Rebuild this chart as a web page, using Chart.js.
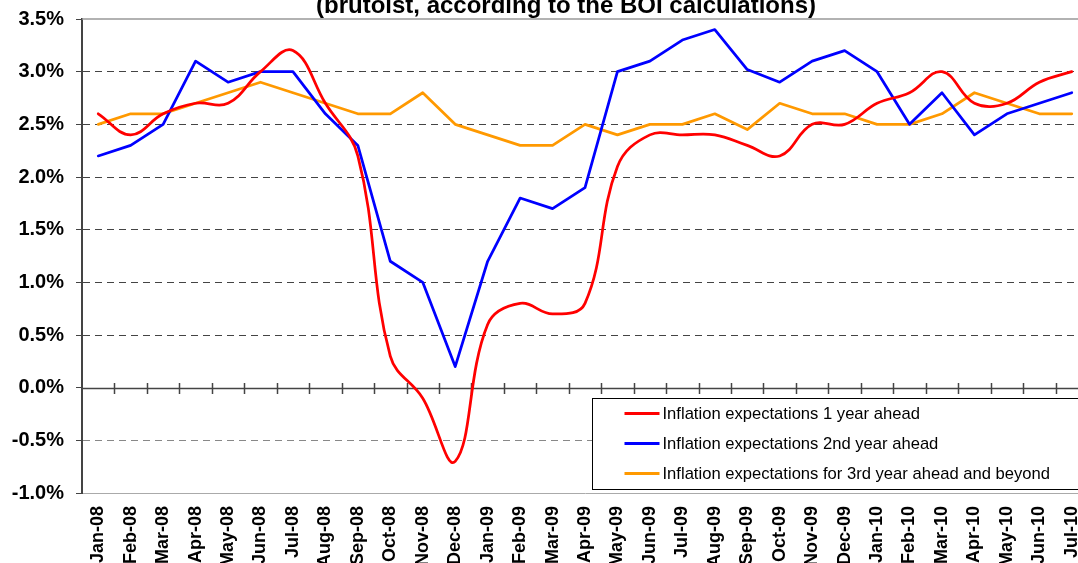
<!DOCTYPE html>
<html lang="en">
<head>
<meta charset="UTF-8">
<title>Inflation expectations</title>
<script src="https://cdn.jsdelivr.net/npm/chart.js"></script>
<style>
    html, body {
        margin: 0;
        padding: 0;
        width: 1078px;
        height: 563px;
        overflow: hidden;
        background: #fff;
    }
    #wrap {
        position: absolute;
        left: 0;
        top: -8px;
    }
</style>
</head>
<body>
<div id="wrap"><canvas id="chart" width="1132" height="571"></canvas></div>
<script>
    // Data (percent)
    const months = ['Jan-08', 'Feb-08', 'Mar-08', 'Apr-08', 'May-08', 'Jun-08', 'Jul-08', 'Aug-08',
        'Sep-08', 'Oct-08', 'Nov-08', 'Dec-08', 'Jan-09', 'Feb-09', 'Mar-09', 'Apr-09', 'May-09',
        'Jun-09', 'Jul-09', 'Aug-09', 'Sep-09', 'Oct-09', 'Nov-09', 'Dec-09', 'Jan-10', 'Feb-10',
        'Mar-10', 'Apr-10', 'May-10', 'Jun-10', 'Jul-10'];
    const oneYear = [2.6, 2.4, 2.6, 2.7, 2.7, 3.0, 3.2, 2.7, 2.2, 0.3, -0.1, -0.7, 0.6, 0.8, 0.7, 0.8,
        2.1, 2.4, 2.4, 2.4, 2.3, 2.2, 2.5, 2.5, 2.7, 2.8, 3.0, 2.7, 2.7, 2.9, 3.0];
    const secondYear = [2.2, 2.3, 2.5, 3.1, 2.9, 3.0, 3.0, 2.6, 2.3, 1.2, 1.0, 0.2, 1.2, 1.8, 1.7, 1.9,
        3.0, 3.1, 3.3, 3.4, 3.02, 2.9, 3.1, 3.2, 3.0, 2.5, 2.8, 2.4, 2.6, 2.7, 2.8];
    const thirdYear = [2.5, 2.6, 2.6, 2.7, 2.8, 2.9, 2.8, 2.7, 2.6, 2.6, 2.8, 2.5, 2.4, 2.3, 2.3, 2.5,
        2.4, 2.5, 2.5, 2.6, 2.45, 2.7, 2.6, 2.6, 2.5, 2.5, 2.6, 2.8, 2.7, 2.6, 2.6];
    const seriesNames = ['Inflation expectations 1 year ahead',
        'Inflation expectations 2nd year ahead',
        'Inflation expectations for 3rd year ahead and beyond'];
    const titleText = '(brutoist, according to the BOI calculations)';

    const FONT = "Arial, 'Liberation Sans', sans-serif";

    // title (only its lower part shows), centred on the canvas
    const topTitle = {
        id: 'topTitle',
        afterDraw(chart) {
            const {ctx} = chart;
            ctx.save();
            ctx.font = 'bold 24px ' + FONT;
            ctx.fillStyle = '#000';
            ctx.textAlign = 'center';
            ctx.textBaseline = 'alphabetic';
            ctx.fillText(titleText, chart.width / 2, 21);
            ctx.restore();
        }
    };

    // plot frame: top border, zero axis with category tick marks
    const frame = {
        id: 'frame',
        beforeDatasetsDraw(chart) {
            const {ctx, chartArea: a, scales: {x, y}} = chart;
            const y0 = Math.round(y.getPixelForValue(0)) + 0.5;
            ctx.save();
            ctx.strokeStyle = '#999';
            ctx.lineWidth = 1.5;
            ctx.beginPath();
            ctx.moveTo(a.left, a.top);
            ctx.lineTo(a.right, a.top);
            ctx.stroke();

            ctx.strokeStyle = '#444';
            ctx.lineWidth = 1.5;
            ctx.beginPath();
            ctx.moveTo(a.left, y0);
            ctx.lineTo(a.right, y0);
            for (let i = 1; i < months.length; i++) {
                const bx = Math.round((x.getPixelForValue(i - 1) + x.getPixelForValue(i)) / 2) + 0.5;
                ctx.moveTo(bx, y0 - 5.5);
                ctx.lineTo(bx, y0 + 5.5);
            }
            ctx.stroke();
            ctx.restore();
        }
    };

    // boxed legend inside the plot, bottom right
    const boxLegend = {
        id: 'boxLegend',
        afterDatasetsDraw(chart) {
            const {ctx, chartArea: a} = chart;
            const left = Math.round(a.left + 509.5) + 0.5;
            const top = Math.round(a.bottom - 95.5) + 0.5;
            const bottom = Math.round(a.bottom - 4.5) + 0.5;
            const right = a.right - 2;
            ctx.save();
            ctx.fillStyle = '#fff';
            ctx.fillRect(left, top, right - left, bottom - top);
            ctx.strokeStyle = '#000';
            ctx.lineWidth = 1;
            ctx.strokeRect(left, top, right - left, bottom - top);
            ctx.font = '16.6px ' + FONT;
            ctx.textBaseline = 'middle';
            ctx.textAlign = 'left';
            chart.data.datasets.forEach((ds, i) => {
                const ry = top + 15 + i * 30;
                ctx.strokeStyle = ds.borderColor;
                ctx.lineWidth = 3;
                ctx.beginPath();
                ctx.moveTo(left + 32, ry);
                ctx.lineTo(left + 67, ry);
                ctx.stroke();
                ctx.fillStyle = '#000';
                ctx.fillText(ds.label, left + 70, ry + 1);
            });
            ctx.restore();
        }
    };

    new Chart(document.getElementById('chart'), {
        type: 'line',
        data: {
            labels: months,
            datasets: [
                {label: seriesNames[0], data: oneYear, borderColor: '#ff0000', tension: 0.4},
                {label: seriesNames[1], data: secondYear, borderColor: '#0000ff', tension: 0},
                {label: seriesNames[2], data: thirdYear, borderColor: '#ff9900', tension: 0}
            ]
        },
        options: {
            responsive: false,
            animation: false,
            layout: {padding: {left: 0, right: 44, top: 27, bottom: 0}},
            elements: {
                point: {radius: 0},
                line: {borderWidth: 2.75, borderJoinStyle: 'round', borderCapStyle: 'round'}
            },
            plugins: {
                legend: {display: false},
                tooltip: {enabled: false},
                title: {display: false}
            },
            scales: {
                x: {
                    offset: true,
                    grid: {display: false},
                    border: {display: true, color: '#aaa', width: 1},
                    ticks: {
                        autoSkip: false,
                        minRotation: 90,
                        maxRotation: 90,
                        padding: 5,
                        color: '#000',
                        font: {family: FONT, size: 18, weight: 'bold'}
                    },
                    afterFit(scale) { scale.height = 70; }
                },
                y: {
                    min: -1,
                    max: 3.5,
                    ticks: {
                        stepSize: 0.5,
                        padding: 12,
                        color: '#000',
                        font: {family: FONT, size: 20, weight: 'bold'},
                        callback: v => v.toFixed(1) + '%'
                    },
                    grid: {
                        color: ctx => {
                            const v = ctx.tick ? ctx.tick.value : 1;
                            if (v === 0 || v === 3.5) return 'rgba(0,0,0,0)';
                            if (v === -1) return '#aaa';
                            return v < 0 ? '#888' : '#444';
                        },
                        lineWidth: 1,
                        tickColor: '#444',
                        tickLength: 6,
                        tickBorderDash: []
                    },
                    border: {display: true, color: '#444', width: 2, dash: [7, 5]},
                    afterFit(scale) { scale.width = 82; }
                }
            }
        },
        plugins: [frame, boxLegend, topTitle]
    });
</script>
</body>
</html>
